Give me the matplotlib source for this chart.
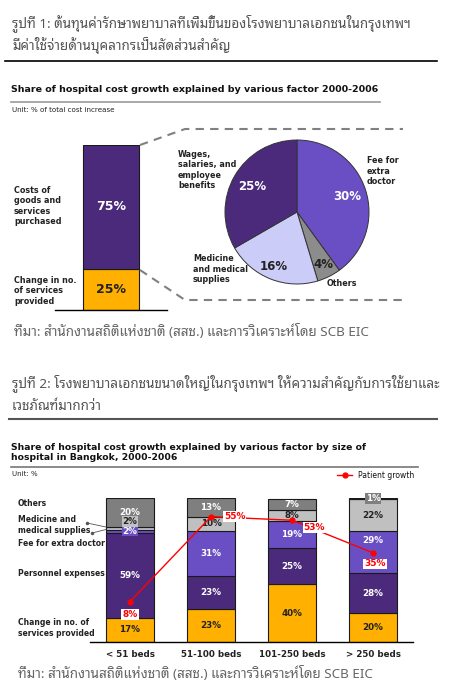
import matplotlib
matplotlib.use("Agg")
import matplotlib.pyplot as plt
from matplotlib.lines import Line2D

W, H = 458, 689

# chart 1: split of cost growth, then breakdown of goods and services
split_labels = ["Change in no.\nof services\nprovided", "Costs of\ngoods and\nservices\npurchased"]
split_values = [25, 75]
pie_labels = ["Fee for\nextra\ndoctor", "Others", "Medicine\nand medical\nsupplies",
              "Wages,\nsalaries, and\nemployee\nbenefits"]
pie_values = [30, 4, 16, 25]

# chart 2: by hospital size
sizes = ["< 51 beds", "51-100 beds", "101-250 beds", "> 250 beds"]
services = [17, 23, 40, 20]
personnel = [59, 23, 25, 28]
fee = [2, 31, 19, 29]
medicine = [2, 10, 8, 22]
others = [20, 13, 7, 1]
patient_growth = [8, 55, 53, 35]
series_names = ["Change in no. of\nservices provided", "Personnel expenses",
                "Fee for extra doctor", "Medicine and\nmedical supplies", "Others"]

ORANGE = "#FFB000"
DARK = "#4B2A7C"
MID = "#6A4FC4"
LAV = "#CCCCF8"
THAI = ["Noto Sans Thai Looped", "DejaVu Sans"]


def fx(x):
    return x / W


def fy(y):
    return 1 - y / H


def box(x0, y0, x1, y1):
    return [fx(x0), fy(y1), (x1 - x0) / W, (y1 - y0) / H]


def label(x, y, s, **kw):
    kw.setdefault("va", "center")
    return fig.text(fx(x), fy(y), s, **kw)


def hline(xs, ys, **kw):
    fig.add_artist(Line2D([fx(v) for v in xs], [fy(v) for v in ys],
                          transform=fig.transFigure, **kw))


fig = plt.figure(figsize=(W / 100, H / 100), dpi=100)

# ---- figure 1 header
label(12, 23, "รูปที่ 1: ต้นทุนค่ารักษาพยาบาลที่เพิ่มขึ้นของโรงพยาบาลเอกชนในกรุงเทพฯ",
      family=THAI, fontsize=9.7, color="#555555")
label(12, 45, "มีค่าใช้จ่ายด้านบุคลากรเป็นสัดส่วนสำคัญ", family=THAI, fontsize=9.7, color="#555555")
hline([5, 437], [61, 61], color="black", lw=1.2)
label(11, 90, "Share of hospital cost growth explained by various factor 2000-2006",
      fontsize=6.8, weight="bold", color="#111111")
hline([11, 380], [102, 102], color="#999999", lw=1.2)
label(12, 110, "Unit: % of total cost increase", fontsize=5.1, color="#222222")

# ---- bar of chart 1
ax1 = fig.add_axes(box(55, 145, 167, 310))
ax1.bar(0, split_values[0], 1, color=ORANGE, edgecolor="#1a1a1a", lw=0.8)
ax1.bar(0, split_values[1], 1, bottom=split_values[0], color=DARK, edgecolor="#1a1a1a", lw=0.8)
ax1.set_xlim(-1, 1)
ax1.set_ylim(0, 100)
for s in ["top", "left", "right"]:
    ax1.spines[s].set_visible(False)
ax1.spines["bottom"].set_linewidth(1.0)
ax1.set_xticks([])
ax1.set_yticks([])
ax1.patch.set_alpha(0)
ax1.text(0, split_values[0] / 2, "%d%%" % split_values[0], ha="center", va="center",
         fontsize=9, weight="bold", color="#222222")
ax1.text(0, split_values[0] + split_values[1] / 2, "%d%%" % split_values[1], ha="center",
         va="center", fontsize=9, weight="bold", color="white")
label(14, 291, split_labels[0], fontsize=5.8, weight="bold", color="#222222", linespacing=1.22)
label(14, 206, split_labels[1], fontsize=5.8, weight="bold", color="#222222", linespacing=1.22)

# dashed connectors
dash = dict(color="#808080", lw=1.5, ls=(0, (4, 3)))
hline([140, 185, 403], [145, 129, 129], **dash)
hline([140, 185, 403], [270, 300, 300], **dash)

# ---- pie
axp = fig.add_axes(box(225, 140, 369, 284))
axp.pie(pie_values, colors=[MID, "#8C8C8C", LAV, DARK], startangle=90, counterclock=False,
        wedgeprops=dict(edgecolor="#333333", lw=0.7))
axp.set_xlim(-1, 1)
axp.set_ylim(-1, 1)
axp.set_aspect("equal")
axp.axis("off")
pie_pct_pos = [(347, 197, "white"), (323, 264, "#222222"), (274, 267, "#222222"), (252, 187, "white")]
for v, (x, y, c) in zip(pie_values, pie_pct_pos):
    label(x, y, "%d%%" % v, ha="center", fontsize=8.5, weight="bold", color=c)
pie_name_pos = [(367, 171), (327, 283), (193, 269), (178, 170)]
for name, (x, y) in zip(pie_labels, pie_name_pos):
    label(x, y, name, fontsize=5.8, weight="bold", color="#222222", linespacing=1.22)

label(14, 332, "ที่มา: สำนักงานสถิติแห่งชาติ (สสช.) และการวิเคราะห์โดย SCB EIC",
      family=THAI, fontsize=9.7, style="italic", color="#666666")

# ---- figure 2 header
label(12, 383, "รูปที่ 2: โรงพยาบาลเอกชนขนาดใหญ่ในกรุงเทพฯ ให้ความสำคัญกับการใช้ยาและ",
      family=THAI, fontsize=9.7, color="#555555")
label(12, 406, "เวชภัณฑ์มากกว่า", family=THAI, fontsize=9.7, color="#555555")
hline([9, 437], [419, 419], color="#555555", lw=1.5)
label(11, 447, "Share of hospital cost growth explained by various factor by size of",
      fontsize=6.65, weight="bold", color="#111111")
label(11, 458, "hospital in Bangkok, 2000-2006", fontsize=6.65, weight="bold", color="#111111")
hline([11, 418], [467, 467], color="#777777", lw=1.2)
label(12, 474, "Unit: %", fontsize=5.0, color="#222222")

# legend
hline([337, 352], [475, 475], color="red", lw=1.0)
fig.add_artist(Line2D([fx(344.5)], [fy(475)], transform=fig.transFigure, marker="o",
                      ms=3.5, color="red"))
label(358, 475, "Patient growth", fontsize=5.5, color="#111111")

# ---- stacked bars of chart 2
ax2 = fig.add_axes(box(90, 498, 413, 642))
xs = list(range(len(sizes)))
stack = [services, personnel, fee, medicine, others]
fills = [ORANGE, DARK, MID, "#C0C0C0", "#7F7F7F"]
txt_cols = ["#222222", "white", "white", "#222222", "white"]
bottom = [0] * len(sizes)
bw = 48 / 81
for k, vals in enumerate(stack):
    ax2.bar(xs, vals, bw, bottom=bottom, color=fills[k], edgecolor="#1a1a1a", lw=0.8)
    for i, v in enumerate(vals):
        yc = bottom[i] + v / 2
        dy = 0
        bb = None
        if v < 5:
            bb = dict(boxstyle="square,pad=0.1", fc=fills[k], ec="none")
            if k == 3:
                dy = 5
        if k == 2 and i == 3:
            # moved up to clear the patient growth point
            dy = 8
        ax2.annotate("%d%%" % v, (i, yc), xytext=(0, dy), textcoords="offset points",
                     ha="center", va="center", fontsize=6.3, weight="bold",
                     color=txt_cols[k], bbox=bb)
    bottom = [b + v for b, v in zip(bottom, vals)]
ax2.set_xlim(-40 / 81, 283 / 81)
ax2.set_ylim(0, 100)
for s in ["top", "left", "right"]:
    ax2.spines[s].set_visible(False)
ax2.spines["bottom"].set_linewidth(1.0)
ax2.set_yticks([])
ax2.set_xticks(xs)
ax2.set_xticklabels(sizes, fontsize=6.3, weight="bold", color="#222222")
ax2.tick_params(axis="x", length=0, pad=6)
ax2.patch.set_alpha(0)

# patient growth on its own scale
ax3 = ax2.twinx()
ax3.set_ylim(-14.3, 65.3)
ax3.plot(xs, patient_growth, color="red", lw=1.0, marker="o", ms=3.5)
ax3.axis("off")
pg_offsets = [(0, -9), (17, 0), (16, -5), (1.5, -8)]
for i, (v, off) in enumerate(zip(patient_growth, pg_offsets)):
    ax3.annotate("%d%%" % v, (i, v), xytext=off, textcoords="offset points", ha="center",
                 va="center", fontsize=6.5, weight="bold", color="red",
                 bbox=dict(boxstyle="square,pad=0.1", fc="white", ec="none"))

# row names on the left
name_y = [628, 573, 544, 525, 503]
for name, y in zip(series_names, name_y):
    label(18, y, name, fontsize=5.5, weight="bold", color="#222222", linespacing=1.15)
lead = dict(color="#555555", lw=0.6)
hline([87, 106], [523, 527], **lead)
hline([92, 106], [533, 529.5], **lead)
for x, y in [(87, 523), (92, 533)]:
    fig.add_artist(Line2D([fx(x)], [fy(y)], transform=fig.transFigure, marker="o",
                          ms=1.5, color="#555555"))

label(18, 673, "ที่มา: สำนักงานสถิติแห่งชาติ (สสช.) และการวิเคราะห์โดย SCB EIC",
      family=THAI, fontsize=9.7, style="italic", color="#666666")

fig.savefig("out.png", dpi=100)
